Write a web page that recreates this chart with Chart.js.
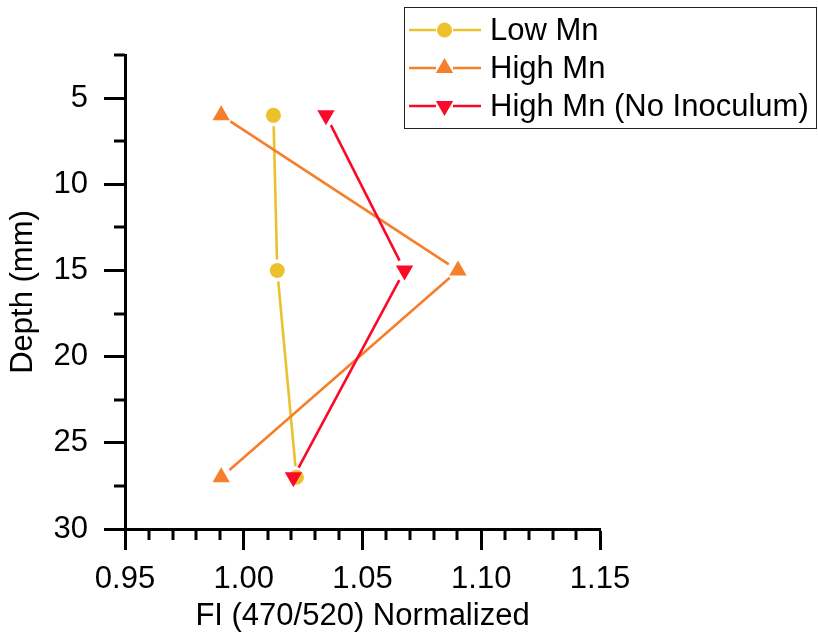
<!DOCTYPE html>
<html>
<head>
<meta charset="utf-8">
<script src="https://cdn.jsdelivr.net/npm/chart.js@4/dist/chart.umd.min.js"></script>
<style>
  html, body { margin: 0; padding: 0; background: #fff; }
  #wrap { position: relative; width: 818px; height: 636px; }
  #legend {
    position: absolute; left: 404px; top: 7px; width: 413px; height: 122px;
    box-sizing: border-box; border: 1.5px solid #222; background: #fff;
    padding-top: 3px;
    font-family: "Liberation Sans", Arial, sans-serif; font-size: 31px; color: #000;
  }
  .row { height: 38px; display: flex; align-items: center; }
  .row canvas { margin-left: 4px; margin-right: 9px; }
</style>
</head>
<body>
<div id="wrap">
  <canvas id="fiChart" width="818" height="636"></canvas>
  <div id="legend"></div>
</div>
<script>
// depth of each sample (mm)
const depths = [6, 15, 27];
// FI (470/520), normalized
const lowMn = [1.0125, 1.0141, 1.0222];
const highMn = [0.9905, 1.0902, 0.9905];
const highMnNoInoc = [1.0346, 1.0677, 1.0209];

const seriesNames = ['Low Mn', 'High Mn', 'High Mn (No Inoculum)'];
const xTicks = [0.95, 1.00, 1.05, 1.10, 1.15];
const yTicks = [5, 10, 15, 20, 25, 30];

const colors = {
  low: '#ECC12C',
  high: '#F57F2A',
  noInoc: '#FA0A28'
};
const FONT = '"Liberation Sans", Arial, sans-serif';
const FONT_SIZE = 31;

const toPoints = (xs) => xs.map((x, i) => ({ x: x, y: depths[i] }));

const series = [
  { label: seriesNames[0], values: lowMn, color: colors.low, style: 'circle', radius: 7.5, rot: 0, order: 2 },
  { label: seriesNames[1], values: highMn, color: colors.high, style: 'triangle', radius: 10, rot: 0, order: 1 },
  { label: seriesNames[2], values: highMnNoInoc, color: colors.noInoc, style: 'triangle', radius: 10, rot: 180, order: 0 }
];

// connecting lines stop short of each marker
const gappedLines = {
  id: 'gappedLines',
  beforeDatasetsDraw(chart) {
    const ctx = chart.ctx;
    const gap = 11;
    ctx.save();
    chart.data.datasets.forEach((ds, di) => {
      const pts = chart.getDatasetMeta(di).data;
      ctx.strokeStyle = ds.borderColor;
      ctx.lineWidth = 2.6;
      for (let i = 0; i < pts.length - 1; i++) {
        const a = pts[i], b = pts[i + 1];
        const dx = b.x - a.x, dy = b.y - a.y;
        const len = Math.hypot(dx, dy);
        if (len <= gap * 2) continue;
        const ux = dx / len, uy = dy / len;
        ctx.beginPath();
        ctx.moveTo(a.x + ux * gap, a.y + uy * gap);
        ctx.lineTo(b.x - ux * gap, b.y - uy * gap);
        ctx.stroke();
      }
    });
    ctx.restore();
  }
};

// short minor ticks between the labelled ones
const minorTicks = {
  id: 'minorTicks',
  afterDraw(chart) {
    const ctx = chart.ctx;
    const xs = chart.scales.x, ys = chart.scales.y;
    const area = chart.chartArea;
    ctx.save();
    ctx.strokeStyle = '#000';
    ctx.lineWidth = 3;
    for (let k = 1; k < 20; k++) {
      if (k % 5 === 0) continue;
      const px = Math.round(xs.getPixelForValue(0.95 + k * 0.01));
      ctx.beginPath();
      ctx.moveTo(px, area.bottom);
      ctx.lineTo(px, area.bottom + 11);
      ctx.stroke();
    }
    for (let v = 2.5; v < 30; v += 5) {
      const py = Math.round(ys.getPixelForValue(v));
      ctx.beginPath();
      ctx.moveTo(area.left, py);
      ctx.lineTo(area.left - 11, py);
      ctx.stroke();
    }
    ctx.restore();
  }
};

new Chart(document.getElementById('fiChart'), {
  type: 'scatter',
  data: {
    datasets: series.map(s => ({
      label: s.label,
      data: toPoints(s.values),
      borderColor: s.color,
      backgroundColor: s.color,
      pointStyle: s.style,
      pointRadius: s.radius,
      pointRotation: s.rot,
      pointBorderWidth: 0,
      showLine: false,
      order: s.order
    }))
  },
  options: {
    responsive: false,
    animation: false,
    events: [],
    layout: { padding: { left: 0, top: 55, right: 218, bottom: 0 } },
    plugins: { legend: { display: false }, tooltip: { enabled: false } },
    scales: {
      x: {
        type: 'linear',
        min: 0.95,
        max: 1.15,
        afterFit: (scale) => { scale.height = 107; },
        afterBuildTicks: (scale) => { scale.ticks = xTicks.map(v => ({ value: v })); },
        border: { display: true, color: '#000', width: 3 },
        grid: { drawOnChartArea: false, drawTicks: true, tickLength: 21, tickWidth: 3, tickColor: '#000' },
        ticks: {
          color: '#000', padding: 11,
          font: { family: FONT, size: FONT_SIZE },
          callback: (v) => v.toFixed(2)
        },
        title: {
          display: true, text: 'FI (470/520) Normalized', color: '#000',
          font: { family: FONT, size: FONT_SIZE }, padding: { top: 0, bottom: 1 }
        }
      },
      y: {
        type: 'linear',
        reverse: true,
        min: 2.5,
        max: 30,
        afterFit: (scale) => { scale.width = 125; },
        afterBuildTicks: (scale) => { scale.ticks = yTicks.map(v => ({ value: v })); },
        border: { display: true, color: '#000', width: 3 },
        grid: { drawOnChartArea: false, drawTicks: true, tickLength: 21, tickWidth: 3, tickColor: '#000' },
        ticks: {
          color: '#000', padding: 16,
          font: { family: FONT, size: FONT_SIZE },
          callback: (v) => String(v)
        },
        title: {
          display: true, text: 'Depth (mm)', color: '#000',
          font: { family: FONT, size: FONT_SIZE }, padding: { top: 5, bottom: 0 }
        }
      }
    }
  },
  plugins: [gappedLines, minorTicks]
});

// legend: line + marker sample, then the series name
const legendEl = document.getElementById('legend');
series.forEach(s => {
  const row = document.createElement('div');
  row.className = 'row';
  const c = document.createElement('canvas');
  c.width = 72; c.height = 24;
  const ctx = c.getContext('2d');
  ctx.strokeStyle = s.color;
  ctx.fillStyle = s.color;
  ctx.lineWidth = 2.6;
  ctx.beginPath();
  ctx.moveTo(0, 12); ctx.lineTo(27, 12);
  ctx.moveTo(44, 12); ctx.lineTo(72, 12);
  ctx.stroke();
  Chart.helpers.drawPoint(ctx, {
    pointStyle: s.style, radius: s.radius, rotation: s.rot, borderWidth: 0
  }, 35.5, 12);
  row.appendChild(c);
  const span = document.createElement('span');
  span.textContent = s.label;
  row.appendChild(span);
  legendEl.appendChild(row);
});
</script>
</body>
</html>
